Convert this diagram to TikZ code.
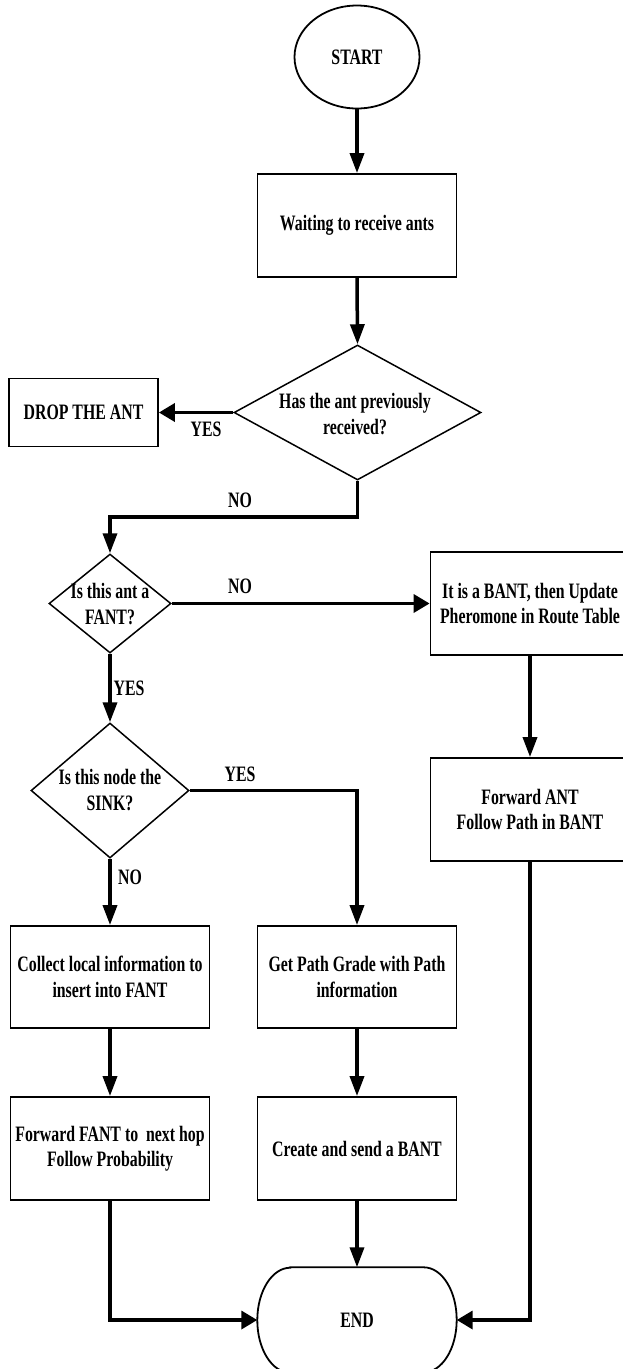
\documentclass[tikz,border=0pt]{standalone}
\usepackage{fontspec}
\setmainfont[FakeStretch=0.72]{Liberation Serif}
\usetikzlibrary{shapes.geometric,arrows.meta,calc}
\begin{document}
\begin{tikzpicture}[x=1pt,y=1pt,
  txt/.style={font=\bfseries\fontsize{22}{25.5}\selectfont, align=center, inner sep=0pt},
  box/.style={txt, draw, line width=1.8pt, rectangle, minimum width=199pt, minimum height=103pt},
  dia/.style={draw, diamond, line width=1.5pt, inner sep=0pt},
  conn/.style={line width=3.5pt},
  varr/.style={conn, -{Triangle[length=20pt,width=14pt]}},
  harr/.style={conn, -{Triangle[length=16pt,width=18pt]}},
  lab/.style={txt}
]
\clip (0,0) rectangle (623,-1369);
\fill[white] (0,0) rectangle (623,-1369);

% nodes
\node[txt, draw, ellipse, line width=1.8pt, minimum width=125pt, minimum height=103pt] (start) at (357,-57) {START};
\node[box] (wait) at (357,-225.5) {Waiting to receive ants};
\node[dia, minimum width=247pt, minimum height=135pt] (d1) at (357.5,-412.5) {};
\node[txt] (d1t) at (355,-414) {Has the ant previously\\received?};
\node[box, minimum width=149pt, minimum height=68pt] (drop) at (83.5,-412.5) {DROP THE ANT};
\node[dia, minimum width=122pt, minimum height=99pt] (d2) at (110,-603.5) {};
\node[txt] (d2t) at (110,-604) {Is this ant a\\FANT?};
\node[box] (bant) at (530,-603.5) {It is a BANT, then Update\\Pheromone in Route Table};
\node[box] (fwdant) at (530,-809.5) {Forward ANT\\Follow Path in BANT};
\node[dia, minimum width=158pt, minimum height=135pt] (d3) at (110,-790.5) {};
\node[txt] (d3t) at (110,-790) {Is this node the\\SINK?};
\node[box, minimum height=102pt] (collect) at (110,-977) {Collect local information to\\insert into FANT};
\node[box, minimum height=102pt] (getpath) at (357,-977) {Get Path Grade with Path\\information};
\node[box] (fwdfant) at (110,-1148.5) {Forward FANT to~ next hop\\Follow Probability};
\node[box] (create) at (357,-1148.5) {Create and send a BANT};
\node[txt, rectangle, minimum width=199pt, minimum height=105pt] (end) at (357,-1320) {END};
\draw[line width=1.8pt] ([xshift=33pt]end.north west) -- ([xshift=-33pt]end.north east)
  arc[start angle=90, end angle=-90, x radius=33pt, y radius=52.5pt]
  -- ([xshift=33pt]end.south west)
  arc[start angle=270, end angle=90, x radius=33pt, y radius=52.5pt] -- cycle;

% labels
\node[lab] (l1) at (206,-429) {YES};
\node[lab] (l2) at (240,-500) {NO};
\node[lab] (l3) at (240,-586) {NO};
\node[lab] (l4) at (129,-688) {YES};
\node[lab] (l5) at (240,-774.5) {YES};
\node[lab] (l6) at (130,-877) {NO};

% connectors
\draw[varr] (start.south) -- (wait.north);
\draw[varr] (wait.south) -- (d1.north);
\draw[harr] (d1.west) -- (drop.east);
\draw[varr] (d1.south) -- ++(0,-36) -| (d2.north);
\draw[harr] (d2.east) -- (bant.west);
\draw[varr] (d2.south) -- (d3.north);
\draw[varr] (d3.east) -| (getpath.north);
\draw[varr] (d3.south) -- (collect.north);
\draw[varr] (collect.south) -- (fwdfant.north);
\draw[varr] (getpath.south) -- (create.north);
\draw[varr] (create.south) -- (end.north);
\draw[harr] (fwdfant.south) |- (end.west);
\draw[varr] (bant.south) -- (fwdant.north);
\draw[harr] (fwdant.south) |- (end.east);
\end{tikzpicture}
\end{document}
